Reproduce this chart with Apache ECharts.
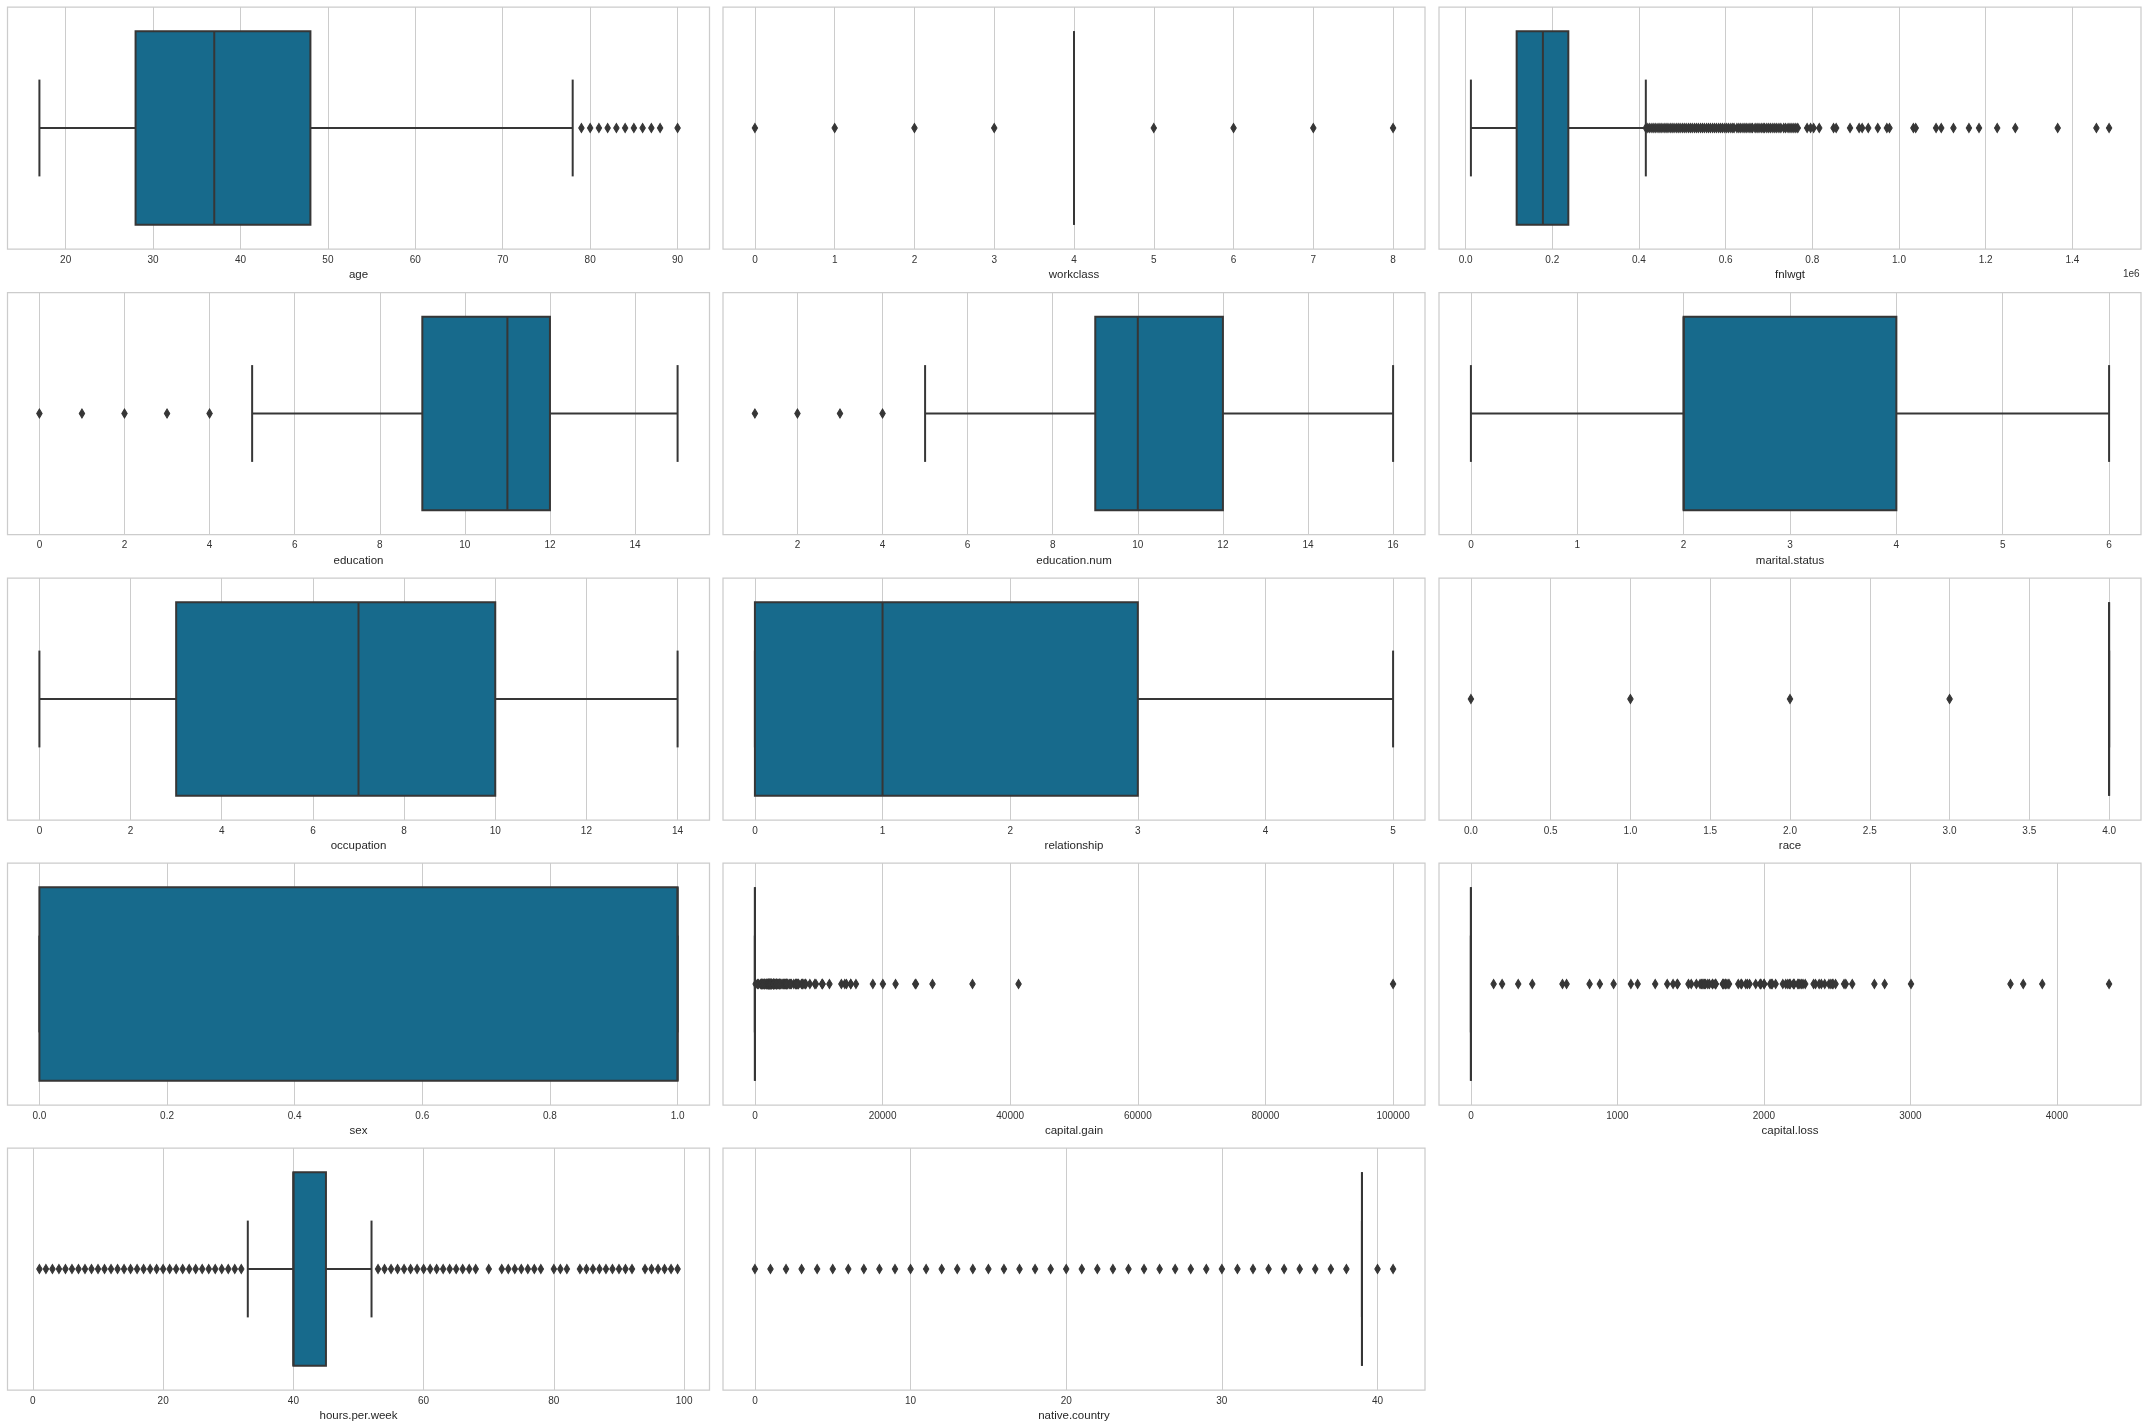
<!DOCTYPE html>
<html><head><meta charset="utf-8">
<script src="https://cdn.jsdelivr.net/npm/echarts@6/dist/echarts.min.js"></script>
<style>html,body{margin:0;padding:0;background:#fff}#c{width:2148px;height:1428px}</style>
</head><body><div id="c"></div>
<script>
// ---------- DATA ----------
// box stats: [lower whisker, Q1, median, Q3, upper whisker]
const ageBox = [17, 28, 37, 48, 78];
const ageOutliers = [79, 80, 81, 82, 83, 84, 85, 86, 87, 88, 90];
const ageTicks = [20, 30, 40, 50, 60, 70, 80, 90];

const workclassBox = [4, 4, 4, 4, 4];
const workclassOutliers = [0, 1, 2, 3, 5, 6, 7, 8];
const workclassTicks = [0, 1, 2, 3, 4, 5, 6, 7, 8];

const fnlwgtBox = [12285, 117827, 178356, 237051, 415847];
const fnlwgtOutliers = [
  416000, 420500, 425000, 430000, 434500, 439000, 444000, 448500, 453000, 458000,
  462500, 467000, 472000, 476500, 481000, 486000, 490500, 495000, 500000, 504500,
  509000, 514000, 518500, 523000, 528000, 532500, 537000, 542000, 546500, 551000,
  556000, 560500, 565000, 570000, 574500, 579000, 584000, 588500, 593000, 598000,
  602500, 607000, 612000, 616500, 619500,
  626000, 630500, 635000, 640000, 644500, 649000, 654000, 658500, 662000, 668000,
  672500, 677000, 682000, 686500, 690000, 695000, 699500, 704000, 709000, 713500,
  718000, 723000, 727500, 734000, 738500, 744000, 748500, 753000, 757500, 762000, 766500,
  788000, 796000, 803000, 816000, 849000, 855000, 887000, 908000, 915000, 929000,
  951000, 972000, 978000, 1033222, 1038553, 1085515, 1097453, 1125613, 1161363,
  1184622, 1226583, 1268339, 1366120, 1455435, 1484705
];
const fnlwgtTicks = [0, 200000, 400000, 600000, 800000, 1000000, 1200000, 1400000];

const educationBox = [5, 9, 11, 12, 15];
const educationOutliers = [0, 1, 2, 3, 4];
const educationTicks = [0, 2, 4, 6, 8, 10, 12, 14];

const educationNumBox = [5, 9, 10, 12, 16];
const educationNumOutliers = [1, 2, 3, 4];
const educationNumTicks = [2, 4, 6, 8, 10, 12, 14, 16];

const maritalBox = [0, 2, 2, 4, 6];
const maritalOutliers = [];
const maritalTicks = [0, 1, 2, 3, 4, 5, 6];

const occupationBox = [0, 3, 7, 10, 14];
const occupationOutliers = [];
const occupationTicks = [0, 2, 4, 6, 8, 10, 12, 14];

const relationshipBox = [0, 0, 1, 3, 5];
const relationshipOutliers = [];
const relationshipTicks = [0, 1, 2, 3, 4, 5];

const raceBox = [4, 4, 4, 4, 4];
const raceOutliers = [0, 1, 2, 3];
const raceTicks = [0, 0.5, 1, 1.5, 2, 2.5, 3, 3.5, 4];

const sexBox = [0, 0, 1, 1, 1];
const sexOutliers = [];
const sexTicks = [0, 0.2, 0.4, 0.6, 0.8, 1.0];

const capGainBox = [0, 0, 0, 0, 0];
const capGainOutliers = [114, 401, 594, 914, 991, 1055, 1086, 1111, 1151, 1173, 1409, 1424, 1455, 1471, 1506, 1639, 1797, 1831, 1848, 2009, 2036, 2050, 2062, 2105, 2174, 2176, 2202, 2228, 2290, 2329, 2346, 2354, 2387, 2407, 2414, 2463, 2538, 2580, 2597, 2635, 2653, 2829, 2885, 2907, 2936, 2961, 2964, 2977, 2993, 3103, 3137, 3273, 3325, 3411, 3418, 3432, 3456, 3464, 3471, 3674, 3781, 3818, 3887, 3908, 3942, 4064, 4101, 4386, 4416, 4508, 4650, 4687, 4787, 4865, 4931, 4934, 5013, 5060, 5178, 5455, 5556, 5721, 6097, 6360, 6418, 6497, 6514, 6723, 6767, 6849, 7298, 7430, 7443, 7688, 7896, 7978, 8614, 9386, 9562, 10520, 10566, 10605, 11678, 13550, 14084, 14344, 15020, 15024, 15831, 18481, 20051, 22040, 25124, 25236, 27828, 34095, 41310, 99999];
const capGainTicks = [0, 20000, 40000, 60000, 80000, 100000];

const capLossBox = [0, 0, 0, 0, 0];
const capLossOutliers = [155, 213, 323, 419, 625, 653, 810, 880, 974, 1092, 1138, 1258, 1340, 1380, 1408, 1411, 1485, 1504, 1539, 1564, 1573, 1579, 1590, 1594, 1602, 1617, 1628, 1648, 1651, 1668, 1669, 1672, 1719, 1721, 1726, 1735, 1740, 1741, 1755, 1762, 1825, 1844, 1848, 1876, 1887, 1902, 1944, 1974, 1977, 1980, 2001, 2002, 2042, 2051, 2057, 2080, 2129, 2149, 2163, 2174, 2179, 2201, 2205, 2206, 2231, 2238, 2246, 2258, 2267, 2282, 2339, 2352, 2377, 2392, 2415, 2444, 2457, 2467, 2472, 2489, 2547, 2559, 2603, 2754, 2824, 3004, 3683, 3770, 3900, 4356];
const capLossTicks = [0, 1000, 2000, 3000, 4000];

const hoursBox = [33, 40, 40, 45, 52];
const hoursOutliers = [1, 2, 3, 4, 5, 6, 7, 8, 9, 10, 11, 12, 13, 14, 15, 16, 17, 18, 19, 20, 21, 22, 23, 24, 25, 26, 27, 28, 29, 30, 31, 32,
  53, 54, 55, 56, 57, 58, 59, 60, 61, 62, 63, 64, 65, 66, 67, 68, 70, 72, 73, 74, 75, 76, 77, 78, 80, 81, 82,
  84, 85, 86, 87, 88, 89, 90, 91, 92, 94, 95, 96, 97, 98, 99];
const hoursTicks = [0, 20, 40, 60, 80, 100];

const nativeBox = [39, 39, 39, 39, 39];
const nativeOutliers = [0, 1, 2, 3, 4, 5, 6, 7, 8, 9, 10, 11, 12, 13, 14, 15, 16, 17, 18, 19, 20, 21, 22, 23, 24, 25, 26, 27, 28, 29, 30, 31, 32, 33, 34, 35, 36, 37, 38, 40, 41];
const nativeTicks = [0, 10, 20, 30, 40];

const panelNames = ['age', 'workclass', 'fnlwgt', 'education', 'education.num', 'marital.status', 'occupation', 'relationship', 'race', 'sex', 'capital.gain', 'capital.loss', 'hours.per.week', 'native.country'];

// ---------- BUILD ----------
const intFmt = v => String(Math.round(v));
const oneDec = v => v.toFixed(1);
const panels = [
  { box: ageBox, out: ageOutliers, ticks: ageTicks, fmt: intFmt },
  { box: workclassBox, out: workclassOutliers, ticks: workclassTicks, fmt: intFmt },
  { box: fnlwgtBox, out: fnlwgtOutliers, ticks: fnlwgtTicks, fmt: v => (v / 1e6).toFixed(1) },
  { box: educationBox, out: educationOutliers, ticks: educationTicks, fmt: intFmt },
  { box: educationNumBox, out: educationNumOutliers, ticks: educationNumTicks, fmt: intFmt },
  { box: maritalBox, out: maritalOutliers, ticks: maritalTicks, fmt: intFmt },
  { box: occupationBox, out: occupationOutliers, ticks: occupationTicks, fmt: intFmt },
  { box: relationshipBox, out: relationshipOutliers, ticks: relationshipTicks, fmt: intFmt },
  { box: raceBox, out: raceOutliers, ticks: raceTicks, fmt: oneDec },
  { box: sexBox, out: sexOutliers, ticks: sexTicks, fmt: oneDec },
  { box: capGainBox, out: capGainOutliers, ticks: capGainTicks, fmt: intFmt },
  { box: capLossBox, out: capLossOutliers, ticks: capLossTicks, fmt: intFmt },
  { box: hoursBox, out: hoursOutliers, ticks: hoursTicks, fmt: intFmt },
  { box: nativeBox, out: nativeOutliers, ticks: nativeTicks, fmt: intFmt }
];

const colLeft = [7.5, 723, 1439];
const rowTop = [7, 292.5, 578, 863, 1148];
const PW = 702, PH = 242;
const BOX_COLOR = '#176a8c';
const LINE_COLOR = '#363636';
const FONT = 'Liberation Sans, Arial, sans-serif';

const grids = [], xAxes = [], yAxes = [], series = [];
panels.forEach((p, i) => {
  const r = Math.floor(i / 3), c = i % 3;
  grids.push({ left: colLeft[c], top: rowTop[r], width: PW, height: PH, show: true,
    borderColor: '#cccccc', borderWidth: 1.25, backgroundColor: '#fff', containLabel: false });
  const all = p.box.concat(p.out);
  const dMin = Math.min.apply(null, all), dMax = Math.max.apply(null, all);
  const pad = (dMax - dMin) * 0.05;
  xAxes.push({
    type: 'value', gridIndex: i, min: dMin - pad, max: dMax + pad,
    name: panelNames[i], nameLocation: 'middle', nameGap: 20,
    nameTextStyle: { fontSize: 11.5, color: '#262626', fontFamily: FONT },
    axisLine: { show: false },
    axisTick: { show: false, customValues: p.ticks },
    axisLabel: { customValues: p.ticks, formatter: p.fmt, margin: 6, fontSize: 10, color: '#333', fontFamily: FONT },
    splitLine: { show: true, lineStyle: { color: '#cccccc', width: 1 } }
  });
  yAxes.push({ type: 'value', gridIndex: i, min: -0.5, max: 0.5, inverse: true, show: false });
  series.push({
    type: 'custom', xAxisIndex: i, yAxisIndex: i, clip: false, silent: true,
    data: [p.box],
    encode: { x: [0, 1, 2, 3, 4] },
    renderItem: function (params, api) {
      const lo = api.coord([api.value(0), 0]);
      const q1 = api.coord([api.value(1), 0]);
      const md = api.coord([api.value(2), 0]);
      const q3 = api.coord([api.value(3), 0]);
      const hi = api.coord([api.value(4), 0]);
      const h = api.size([0, 0.8])[1];
      const cy = lo[1], top = cy - h / 2, cap = h / 4;
      const ls = { stroke: LINE_COLOR, lineWidth: 2 };
      return { type: 'group', children: [
        { type: 'line', shape: { x1: lo[0], y1: cy, x2: q1[0], y2: cy }, style: ls },
        { type: 'line', shape: { x1: q3[0], y1: cy, x2: hi[0], y2: cy }, style: ls },
        { type: 'line', shape: { x1: lo[0], y1: cy - cap, x2: lo[0], y2: cy + cap }, style: ls },
        { type: 'line', shape: { x1: hi[0], y1: cy - cap, x2: hi[0], y2: cy + cap }, style: ls },
        { type: 'rect', shape: { x: q1[0], y: top, width: q3[0] - q1[0], height: h },
          style: { fill: BOX_COLOR, stroke: LINE_COLOR, lineWidth: 2 } },
        { type: 'line', shape: { x1: md[0], y1: top, x2: md[0], y2: top + h }, style: ls }
      ] };
    }
  });
  if (p.out.length) {
    series.push({
      type: 'scatter', xAxisIndex: i, yAxisIndex: i, silent: true,
      symbol: 'diamond', symbolSize: [5.5, 9],
      itemStyle: { color: LINE_COLOR, opacity: 1, borderColor: LINE_COLOR, borderWidth: 1 },
      data: p.out.map(v => [v, 0])
    });
  }
});

const chart = echarts.init(document.getElementById('c'), null, { renderer: 'canvas' });
chart.setOption({
  backgroundColor: '#ffffff',
  animation: false,
  grid: grids, xAxis: xAxes, yAxis: yAxes, series: series,
  graphic: [{ type: 'text', left: colLeft[2] + PW - 18, top: rowTop[0] + PH + 20,
    style: { text: '1e6', fill: '#333', font: '10px Liberation Sans, Arial, sans-serif' } }]
});
</script></body></html>
